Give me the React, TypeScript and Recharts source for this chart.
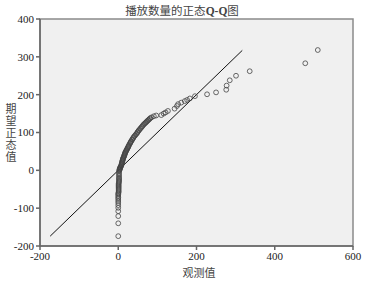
import React from 'react';
import { ScatterChart, Scatter, XAxis, YAxis, CartesianGrid, ReferenceLine, ReferenceArea } from 'recharts';

// observed values (播放数量), paired with expected normal values below
const observed = [
  0, 0, 0, 0, 0, 0, 0, 0, 0, 0,
  0, 0, 0, 1, 1, 1, 1, 1, 1, 1,
  1, 1, 2, 2, 2, 2, 2, 2, 2, 2,
  2, 3, 4, 5, 6, 8, 9, 10, 11, 12,
  13, 15, 16, 17, 19, 21, 23, 25, 27, 30,
  32, 35, 38, 41, 45, 49, 52, 56, 60, 64,
  68, 72, 76, 80, 85, 91, 97, 110, 116, 121,
  127, 144, 150, 153, 161, 170, 176, 183, 196, 227,
  250, 276, 277, 285, 301, 336, 478, 510,
];

const expected = [
  -174, -140, -121, -108, -99, -92, -86, -81, -76, -72,
  -68, -64, -61, -58, -55, -52, -49, -46, -43, -40,
  -37, -34, -31, -28, -25, -22, -19, -15, -11, -7,
  -3, 0, 3, 6, 9, 13, 17, 21, 25, 29,
  33, 37, 41, 45, 49, 53, 57, 61, 65, 71,
  75, 80, 85, 90, 95, 100, 105, 110, 115, 120,
  124, 128, 132, 136, 140, 143, 145, 146, 150, 153,
  157, 163, 170, 175, 179, 183, 186, 190, 196, 201,
  206, 213, 224, 238, 250, 262, 283, 318,
];

// extra points along the dense curved part
const curveObserved = [
  3, 4, 5, 7, 8, 9, 10, 11, 12, 14,
  15, 17, 18, 20, 22, 24, 26, 28, 31, 33,
  36, 39, 43, 47, 50, 54, 58, 62, 66, 70,
  74, 78, 82,
];
const curveExpected = [
  2, 5, 8, 11, 15, 19, 23, 27, 31, 35,
  39, 43, 47, 51, 55, 59, 63, 68, 73, 77,
  82, 87, 92, 97, 102, 107, 112, 117, 122, 126,
  130, 134, 138,
];

const xTicks = [-200, 0, 200, 400, 600];
const yTicks = [-200, -100, 0, 100, 200, 300, 400];

const lineStart = -174;
const lineEnd = 317;

const points = [
  ...observed.map((x, i) => ({ x, y: expected[i] })),
  ...curveObserved.map((x, i) => ({ x, y: curveExpected[i] })),
];

const serif = '"Liberation Serif", "Noto Sans CJK SC", serif';
const yLabel = '期望正态值';

export default function App() {
  return (
    <div style={{ position: 'absolute', left: 0, top: 0, width: 368, height: 282, background: '#fff', fontFamily: serif }}>
      {/* title */}
      <div style={{ position: 'absolute', left: 0, top: 2, width: 364, textAlign: 'center', fontSize: 11.5, color: '#444' }}>
        播放数量的正态<b>Q-Q</b>图
      </div>

      <ScatterChart width={368} height={282} margin={{ top: 19, right: 15, left: 0, bottom: 0 }}>
        <CartesianGrid horizontal={false} vertical={false} fill="#f0f0f0" />
        <ReferenceArea x1={-200} x2={600} y1={-200} y2={400} fill="#f0f0f0" fillOpacity={1} stroke="#8a8a8a" strokeWidth={1.5} />
        <XAxis
          type="number"
          dataKey="x"
          domain={[-200, 600]}
          ticks={xTicks}
          height={36}
          tickSize={4}
          stroke="#666"
          strokeWidth={1.5}
          tick={{ fill: '#222', fontSize: 11, fontFamily: serif }}
        />
        <YAxis
          type="number"
          dataKey="y"
          domain={[-200, 400]}
          ticks={yTicks}
          width={40}
          tickSize={4}
          stroke="#666"
          strokeWidth={1.5}
          tick={{ fill: '#222', fontSize: 11, fontFamily: serif }}
        />
        <ReferenceLine
          segment={[{ x: lineStart, y: lineStart }, { x: lineEnd, y: lineEnd }]}
          stroke="#111"
          strokeWidth={1}
        />
        <Scatter
          data={points}
          isAnimationActive={false}
          shape={(p: any) => (
            <circle cx={p.cx} cy={p.cy} r={2.4} fill="none" stroke="#444" strokeWidth={0.8} />
          )}
        />
      </ScatterChart>

      {/* x label */}
      <div style={{ position: 'absolute', left: 40, top: 264, width: 318, textAlign: 'center', fontSize: 11, color: '#444' }}>
        观测值
      </div>
      {/* y label, stacked characters */}
      <svg style={{ position: 'absolute', left: 0, top: 0 }} width={30} height={282}>
        {yLabel.split('').map((c, i) => (
          <text key={i} x={11} y={113 + i * 12} textAnchor="middle" fontSize={11} fill="#444" fontFamily={serif}>
            {c}
          </text>
        ))}
      </svg>
    </div>
  );
}
